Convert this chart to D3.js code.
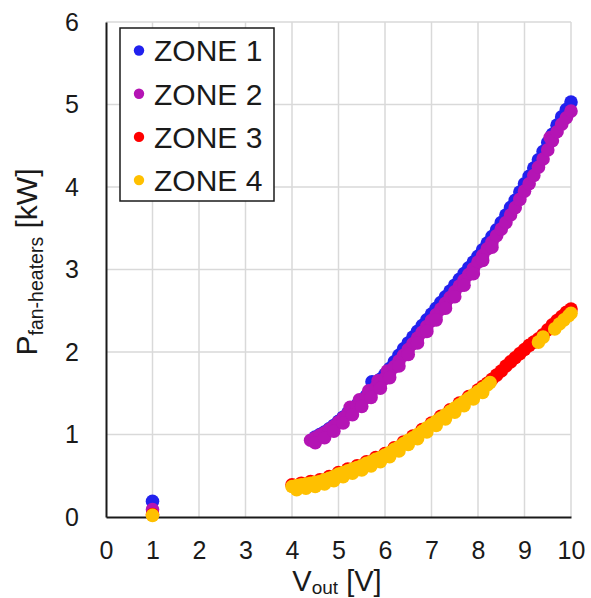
<!DOCTYPE html>
<html>
<head>
<meta charset="utf-8">
<script src="https://cdn.jsdelivr.net/npm/d3@7"></script>
<style>
  body { margin: 0; background: #fff; }
  svg { font-family: "Liberation Sans", Arial, sans-serif; }
</style>
</head>
<body>
<svg id="chart" width="591" height="598"></svg>
<script>
// values: [Vout, P]
const zone1 = [
  [1, 0.19],
  [4.5, 0.97], [4.6, 1.00], [4.7, 1.03], [4.8, 1.07], [4.9, 1.11], [5.0, 1.16],
  [5.1, 1.21], [5.2, 1.26], [5.3, 1.31], [5.4, 1.36], [5.5, 1.41], [5.6, 1.47],
  [5.72, 1.64], [5.8, 1.62], [5.9, 1.67], [6.0, 1.73], [6.1, 1.80], [6.2, 1.88],
  [6.3, 1.96], [6.4, 2.04], [6.5, 2.11], [6.6, 2.18], [6.7, 2.25], [6.8, 2.32],
  [6.9, 2.39], [7.0, 2.46], [7.1, 2.53], [7.2, 2.60], [7.3, 2.67], [7.4, 2.74],
  [7.5, 2.81], [7.6, 2.88], [7.7, 2.95], [7.8, 3.02], [7.9, 3.09], [8.0, 3.16],
  [8.1, 3.24], [8.2, 3.32], [8.3, 3.40], [8.4, 3.48], [8.5, 3.57], [8.6, 3.66],
  [8.7, 3.75], [8.8, 3.84], [8.9, 3.94], [9.0, 4.04], [9.1, 4.13], [9.2, 4.23],
  [9.3, 4.33], [9.4, 4.43], [9.5, 4.54], [9.6, 4.64], [9.7, 4.75], [9.8, 4.85],
  [9.9, 4.94], [10.0, 5.03]
];
const zone2 = [
  [1, 0.09],
  [4.4, 0.93], [4.5, 0.96], [4.6, 0.99], [4.7, 1.02], [4.8, 1.06], [4.9, 1.10],
  [5.0, 1.15], [5.1, 1.20], [5.2, 1.25], [5.25, 1.33], [5.3, 1.30], [5.4, 1.35],
  [5.45, 1.42], [5.5, 1.40], [5.6, 1.45], [5.65, 1.53], [5.7, 1.51], [5.8, 1.57],
  [5.85, 1.65], [5.9, 1.62], [6.0, 1.68], [6.05, 1.77], [6.1, 1.75], [6.2, 1.82],
  [6.3, 1.89], [6.4, 1.96], [6.5, 2.03], [6.6, 2.10], [6.7, 2.17], [6.8, 2.24],
  [6.9, 2.31], [7.0, 2.38], [7.1, 2.45], [7.2, 2.52], [7.3, 2.59], [7.4, 2.66],
  [7.5, 2.73], [7.6, 2.80], [7.7, 2.87], [7.8, 2.94], [7.9, 3.01], [8.0, 3.09],
  [8.1, 3.17], [8.2, 3.25], [8.3, 3.33], [8.4, 3.41], [8.5, 3.49], [8.6, 3.57],
  [8.7, 3.66], [8.8, 3.75], [8.9, 3.85], [9.0, 3.95], [9.1, 4.04], [9.2, 4.14],
  [9.3, 4.24], [9.4, 4.34], [9.5, 4.45], [9.55, 4.60], [9.6, 4.56], [9.7, 4.67],
  [9.8, 4.76], [9.9, 4.84], [10.0, 4.92],
  [4.5, 0.90], [4.7, 0.96], [4.9, 1.04], [5.1, 1.14], [5.3, 1.24], [5.5, 1.34],
  [5.7, 1.45], [5.9, 1.56], [6.1, 1.69], [6.3, 1.83], [6.5, 1.97], [6.7, 2.11],
  [6.9, 2.25], [7.1, 2.39], [7.3, 2.53], [7.5, 2.67], [7.7, 2.81], [7.9, 2.95],
  [8.1, 3.11], [8.3, 3.27]
];
const zone3 = [
  [1, 0.03],
  [4.0, 0.39], [4.2, 0.41], [4.4, 0.43], [4.6, 0.45], [4.8, 0.49], [5.0, 0.54],
  [5.2, 0.58], [5.4, 0.62], [5.6, 0.67], [5.8, 0.72], [6.0, 0.77], [6.2, 0.84],
  [6.4, 0.91], [6.6, 0.98], [6.8, 1.06], [7.0, 1.14], [7.2, 1.22], [7.4, 1.30],
  [7.6, 1.38], [7.8, 1.46], [8.0, 1.54], [8.1, 1.58], [8.2, 1.62], [8.3, 1.67],
  [8.4, 1.72], [8.5, 1.77], [8.6, 1.83], [8.7, 1.88], [8.8, 1.93], [8.9, 1.98],
  [9.0, 2.03], [9.1, 2.08], [9.2, 2.12], [9.3, 2.16], [9.4, 2.21], [9.5, 2.27],
  [9.6, 2.33], [9.7, 2.38], [9.8, 2.43], [9.9, 2.48], [10.0, 2.52]
];
const zone4 = [
  [1, 0.02],
  [4.0, 0.37], [4.1, 0.38], [4.2, 0.39], [4.3, 0.40], [4.4, 0.41], [4.5, 0.42],
  [4.6, 0.43], [4.7, 0.45], [4.8, 0.47], [4.9, 0.49], [5.0, 0.52], [5.1, 0.54],
  [5.2, 0.56], [5.3, 0.58], [5.4, 0.60], [5.5, 0.62], [5.6, 0.65], [5.7, 0.67],
  [5.8, 0.70], [5.9, 0.72], [6.0, 0.75], [6.1, 0.78], [6.2, 0.82], [6.3, 0.85],
  [6.4, 0.89], [6.5, 0.93], [6.6, 0.96], [6.7, 1.00], [6.8, 1.04], [6.9, 1.08],
  [7.0, 1.12], [7.1, 1.16], [7.2, 1.20], [7.3, 1.24], [7.4, 1.28], [7.5, 1.32],
  [7.6, 1.36], [7.7, 1.40], [7.8, 1.44], [7.9, 1.48], [8.0, 1.52], [8.1, 1.56],
  [8.2, 1.60], [8.26, 1.63],
  [9.3, 2.12], [9.4, 2.18], [9.65, 2.28], [9.75, 2.34], [9.85, 2.39],
  [9.95, 2.44], [10.0, 2.47],
  [4.1, 0.33], [4.3, 0.35], [4.5, 0.37], [4.7, 0.40], [4.9, 0.44], [5.1, 0.49],
  [5.3, 0.53], [5.5, 0.57], [5.7, 0.62], [5.9, 0.67], [6.1, 0.73], [6.3, 0.80],
  [6.5, 0.88], [6.7, 0.95], [6.9, 1.03], [7.1, 1.11], [7.3, 1.19], [7.5, 1.27],
  [7.7, 1.35], [7.9, 1.43], [8.1, 1.51]
];

const zoneNames = ["ZONE 1", "ZONE 2", "ZONE 3", "ZONE 4"];
const zoneColors = ["#2121ee", "#b414b4", "#ff0000", "#ffc000"];
const xTicks = [0, 1, 2, 3, 4, 5, 6, 7, 8, 9, 10];
const yTicks = [0, 1, 2, 3, 4, 5, 6];

const svg = d3.select("#chart");
const plotL = 106, plotR = 571, plotT = 22, plotB = 517;

const x = d3.scaleLinear().domain([0, 10]).range([plotL, plotR]);
const y = d3.scaleLinear().domain([0, 6]).range([plotB, plotT]);

// grid
svg.append("g")
  .selectAll("line")
  .data(xTicks.slice(1)).enter()
  .append("line")
  .attr("x1", d => x(d)).attr("x2", d => x(d))
  .attr("y1", plotT).attr("y2", plotB)
  .attr("stroke", "#d9d9d9").attr("stroke-width", 1.5);

svg.append("g")
  .selectAll("line")
  .data(yTicks.slice(1)).enter()
  .append("line")
  .attr("x1", plotL).attr("x2", plotR)
  .attr("y1", d => y(d)).attr("y2", d => y(d))
  .attr("stroke", "#d9d9d9").attr("stroke-width", 1.5);

// axes
const xAxis = svg.append("g")
  .attr("transform", `translate(0,${plotB})`)
  .call(d3.axisBottom(x).tickValues(xTicks).tickSize(0).tickPadding(24).tickFormat(d3.format("d")));
const yAxis = svg.append("g")
  .attr("transform", `translate(${plotL},0)`)
  .call(d3.axisLeft(y).tickValues(yTicks).tickSize(0).tickPadding(27).tickFormat(d3.format("d")));

[xAxis, yAxis].forEach(a => {
  a.select(".domain").attr("stroke", "#1a1a1a").attr("stroke-width", 2);
  a.selectAll("text").attr("font-size", 25).attr("fill", "#1a1a1a")
    .attr("font-family", "Liberation Sans, Arial, sans-serif");
});

// points
const series = [zone1, zone2, zone3, zone4];
series.forEach((pts, i) => {
  svg.append("g")
    .selectAll("circle")
    .data(pts).enter()
    .append("circle")
    .attr("cx", d => x(d[0]))
    .attr("cy", d => y(d[1]))
    .attr("r", 6.8)
    .attr("fill", zoneColors[i]);
});

// axis titles
const xt = svg.append("text")
  .attr("x", 337)
  .attr("y", 591)
  .attr("text-anchor", "middle")
  .attr("font-size", 29)
  .attr("fill", "#1a1a1a");
xt.append("tspan").text("V");
xt.append("tspan").attr("font-size", 19).attr("dy", 3).text("out");
xt.append("tspan").attr("dy", -3).text(" [V]");

const yt = svg.append("text")
  .attr("transform", "translate(37,262) rotate(-90)")
  .attr("text-anchor", "middle")
  .attr("font-size", 30)
  .attr("fill", "#1a1a1a");
yt.append("tspan").text("P");
yt.append("tspan").attr("font-size", 19.5).attr("dy", 6).text("fan-heaters");
yt.append("tspan").attr("dy", -6).text("  [kW]");

// legend
const legend = svg.append("g");
legend.append("rect")
  .attr("x", 120).attr("y", 28)
  .attr("width", 154).attr("height", 173)
  .attr("fill", "#fff")
  .attr("stroke", "#1a1a1a").attr("stroke-width", 1.5);

const item = legend.selectAll("g")
  .data(zoneNames).enter()
  .append("g")
  .attr("transform", (d, i) => `translate(139,${50.5 + i * 43.2})`);
item.append("circle").attr("r", 5.2).attr("fill", (d, i) => zoneColors[i]);
item.append("text")
  .attr("x", 15).attr("dy", "0.36em")
  .attr("font-size", 30)
  .attr("fill", "#1a1a1a")
  .text(d => d);
</script>
</body>
</html>
